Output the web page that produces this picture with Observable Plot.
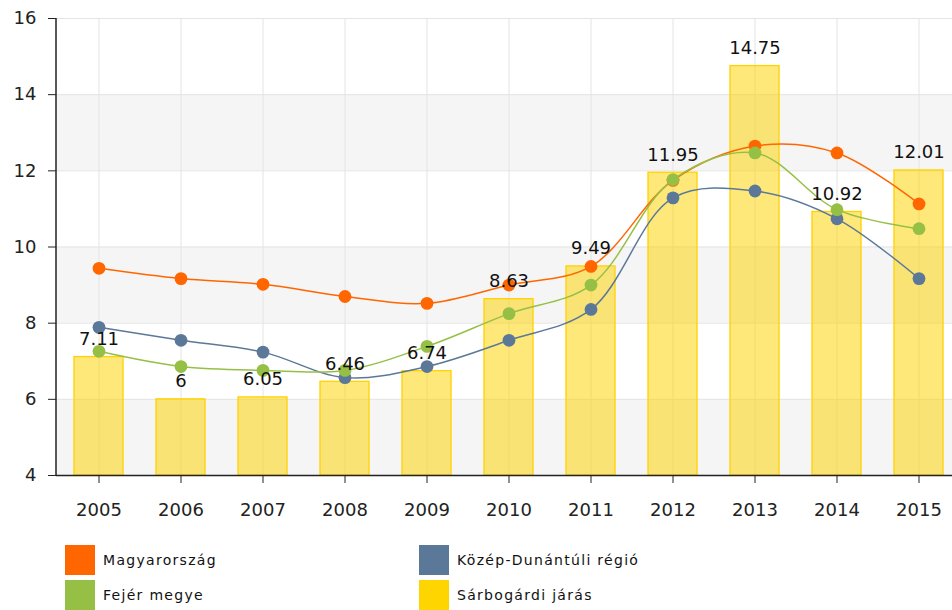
<!DOCTYPE html>
<html>
<head>
<meta charset="utf-8">
<script src="https://cdn.jsdelivr.net/npm/d3@7"></script>
<script src="https://cdn.jsdelivr.net/npm/@observablehq/plot@0.6"></script>
<style>
  html, body { margin: 0; padding: 0; background: #fff; overflow: hidden; }
  #wrap { position: relative; width: 952px; height: 610px; overflow: hidden; font-family: "DejaVu Sans", sans-serif; }
  #chart { position: absolute; left: 0; top: 0; }
  .legend { position: absolute; display: flex; align-items: center; font-size: 14px; letter-spacing: 1.3px; color: #111; }
  .legend .sw { width: 30px; height: 30px; margin-right: 8px; }
</style>
</head>
<body>
<div id="wrap">
  <div id="chart"></div>
</div>
<script>
const years = ["2005","2006","2007","2008","2009","2010","2011","2012","2013","2014","2015"];
const magyarorszag = [9.44, 9.17, 9.02, 8.70, 8.52, 9.00, 9.49, 11.75, 12.65, 12.47, 11.13];
const kozepDunantuli = [7.89, 7.55, 7.24, 6.57, 6.86, 7.55, 8.36, 11.29, 11.47, 10.74, 9.17];
const fejerMegye = [7.26, 6.86, 6.76, 6.76, 7.39, 8.25, 9.00, 11.77, 12.47, 10.98, 10.48];
const sarbogardi = [7.11, 6, 6.05, 6.46, 6.74, 8.63, 9.49, 11.95, 14.75, 10.92, 12.01];
const yTicks = [4, 6, 8, 10, 12, 14, 16];
const seriesNames = ["Magyarország", "Közép-Dunántúli régió", "Fejér megye", "Sárbogárdi járás"];
const seriesColors = ["#FF6600", "#5B7899", "#96C045", "#FFD500"];

const lineSeries = [
  {name: seriesNames[0], values: magyarorszag, color: seriesColors[0]},
  {name: seriesNames[1], values: kozepDunantuli, color: seriesColors[1]},
  {name: seriesNames[2], values: fejerMegye, color: seriesColors[2]}
];
const bars = years.map((y, i) => ({year: y, value: sarbogardi[i]}));
const bands = [{lo: 4, hi: 6}, {lo: 8, hi: 10}, {lo: 12, hi: 14}];

const lineMarks = [];
for (const s of lineSeries) {
  const data = years.map((y, i) => ({year: y, value: s.values[i]}));
  lineMarks.push(Plot.line(data, {x: "year", y: "value", stroke: s.color, strokeWidth: 1.5, curve: "catmull-rom"}));
  lineMarks.push(Plot.dot(data, {x: "year", y: "value", fill: s.color, r: 6.4, stroke: "none"}));
}

const chart = Plot.plot({
  width: 952,
  height: 530,
  marginLeft: 56,
  marginRight: 0,
  marginTop: 18,
  marginBottom: 55,
  style: {fontFamily: "DejaVu Sans, sans-serif", fontSize: "18px", color: "#222", background: "#fff"},
  x: {type: "band", domain: years, range: [56, 961], paddingInner: 0.4, paddingOuter: 0.2, tickSize: 8, tickPadding: 20, label: null},
  y: {domain: [4, 16], ticks: yTicks, tickSize: 8, tickPadding: 12, label: null},
  marks: [
    Plot.barY(bands, {y1: "lo", y2: "hi", fill: "#f5f5f5"}),
    Plot.ruleY(yTicks.slice(1), {stroke: "#e4e4e4", strokeWidth: 1}),
    Plot.ruleX(years, {x: d => d, stroke: "#e4e4e4", strokeWidth: 1}),
    Plot.barY(bars, {x: "year", y1: 4, y2: "value", fill: "#FFD200", fillOpacity: 0.52, stroke: "#FFD200", strokeWidth: 1.3}),
    ...lineMarks,
    Plot.text(bars, {x: "year", y: "value", text: d => String(d.value), lineAnchor: "bottom", dy: -12, fontSize: 18, fill: "#111"}),
    Plot.ruleY([4], {stroke: "#222", strokeWidth: 1.5})
  ]
});
document.getElementById("chart").appendChild(chart);

// left axis line
const svg = d3.select(chart);
svg.append("line").attr("x1", 56).attr("x2", 56).attr("y1", 18).attr("y2", 475).attr("stroke", "#222").attr("stroke-width", 1.5);

// legend
const wrap = document.getElementById("wrap");
const legendPos = [[65, 545], [419, 545], [65, 580], [419, 580]];
seriesNames.forEach((name, k) => {
  const el = document.createElement("div");
  el.className = "legend";
  el.style.left = legendPos[k][0] + "px";
  el.style.top = legendPos[k][1] + "px";
  const sw = document.createElement("div");
  sw.className = "sw";
  sw.style.background = seriesColors[k];
  const tx = document.createElement("span");
  tx.textContent = name;
  el.appendChild(sw);
  el.appendChild(tx);
  wrap.appendChild(el);
});
</script>
</body>
</html>
